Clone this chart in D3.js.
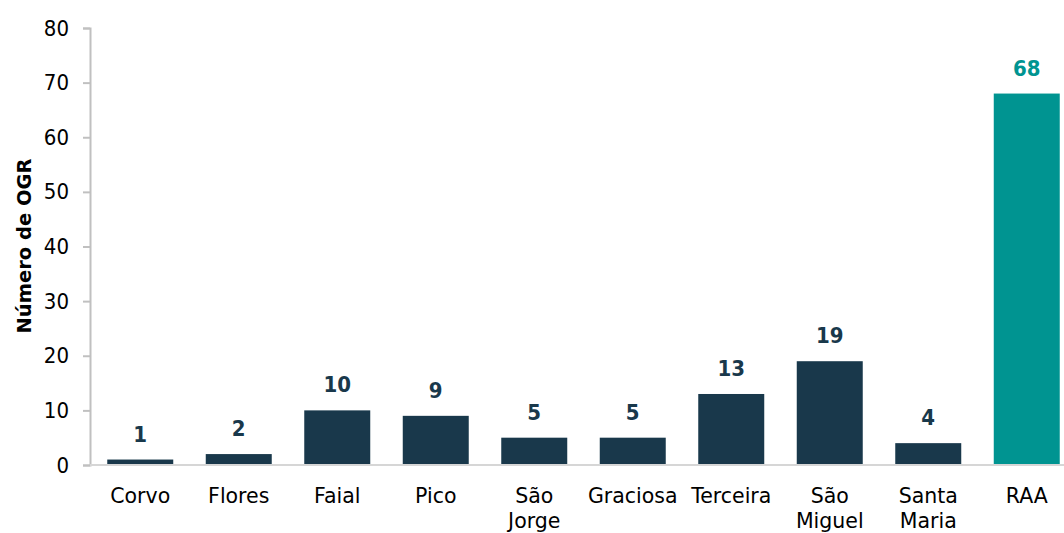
<!DOCTYPE html>
<html>
<head>
<meta charset="utf-8">
<script src="https://cdn.jsdelivr.net/npm/d3@7"></script>
<style>
  body { margin: 0; background: #fff; }
  svg { display: block; }
</style>
</head>
<body>
<svg width="1064" height="533"></svg>
<script>
const islands = ['Corvo', 'Flores', 'Faial', 'Pico', 'São Jorge', 'Graciosa', 'Terceira', 'São Miguel', 'Santa Maria', 'RAA'];
const ogrCounts = [1, 2, 10, 9, 5, 5, 13, 19, 4, 68];
const yTicks = [0, 10, 20, 30, 40, 50, 60, 70, 80];

const darkBlue = '#19384b';
const teal = '#009491';

(function(d3) {
  'use strict';

  const svg = d3.select('svg');
  const margin = { top: 28, left: 90, bottom: 68 };
  const height = +svg.attr('height');

  const x = d3.scaleBand()
      .domain(islands)
      .range([margin.left + 1, margin.left + 986])
      .paddingInner(0.33)
      .paddingOuter(0.165);

  const y = d3.scaleLinear()
      .domain([0, 80])
      .range([height - margin.bottom, margin.top]);

  const colorOf = d => d === 'RAA' ? teal : darkBlue;

  // y axis
  const yAxis = svg.append('g')
      .attr('transform', `translate(${margin.left},0)`)
      .call(d3.axisLeft(y).tickValues(yTicks).tickSize(7).tickPadding(14));
  yAxis.select('.domain').attr('stroke', '#c0c0c0').attr('stroke-width', 2);
  yAxis.selectAll('.tick line').attr('stroke', '#c0c0c0').attr('stroke-width', 2);
  yAxis.selectAll('.tick text')
      .style('font-family', '"DejaVu Sans Condensed", "DejaVu Sans", sans-serif')
      .style('font-size', '22px')
      .attr('fill', '#000');

  // bars
  svg.selectAll('.bar').data(islands)
    .enter().append('rect')
      .attr('class', 'bar')
      .attr('x', d => x(d))
      .attr('width', x.bandwidth())
      .attr('y', (d, i) => y(ogrCounts[i]))
      .attr('height', (d, i) => y(0) - y(ogrCounts[i]))
      .attr('fill', colorOf);

  // x axis line
  svg.append('line')
      .attr('x1', margin.left).attr('x2', 1064)
      .attr('y1', y(0)).attr('y2', y(0))
      .attr('stroke', '#d6d6d6').attr('stroke-width', 2);

  // value labels
  svg.selectAll('.value').data(islands)
    .enter().append('text')
      .attr('class', 'value')
      .attr('x', d => x(d) + x.bandwidth() / 2)
      .attr('y', (d, i) => y(ogrCounts[i]) - 18)
      .attr('text-anchor', 'middle')
      .style('font-family', '"DejaVu Sans Condensed", "DejaVu Sans", sans-serif')
      .style('font-weight', 'bold')
      .style('font-size', '22px')
      .attr('fill', colorOf)
      .text((d, i) => ogrCounts[i]);

  // category labels, split into lines on spaces
  const labels = svg.selectAll('.cat').data(islands)
    .enter().append('text')
      .attr('class', 'cat')
      .attr('x', d => x(d) + x.bandwidth() / 2)
      .attr('y', 503)
      .attr('text-anchor', 'middle')
      .style('font-family', '"DejaVu Sans", sans-serif')
      .style('font-size', '20.5px')
      .attr('fill', '#000');
  labels.selectAll('tspan').data(d => d.split(' '))
    .enter().append('tspan')
      .attr('x', function() { return this.parentNode.getAttribute('x'); })
      .attr('dy', (d, i) => i === 0 ? 0 : 25)
      .text(d => d);

  // y title
  svg.append('text')
      .attr('transform', 'translate(31,246) rotate(-90)')
      .attr('text-anchor', 'middle')
      .style('font-family', '"DejaVu Sans", sans-serif')
      .style('font-weight', 'bold')
      .style('font-size', '19.5px')
      .attr('fill', '#000')
      .text('Número de OGR');

}(d3));
</script>
</body>
</html>
